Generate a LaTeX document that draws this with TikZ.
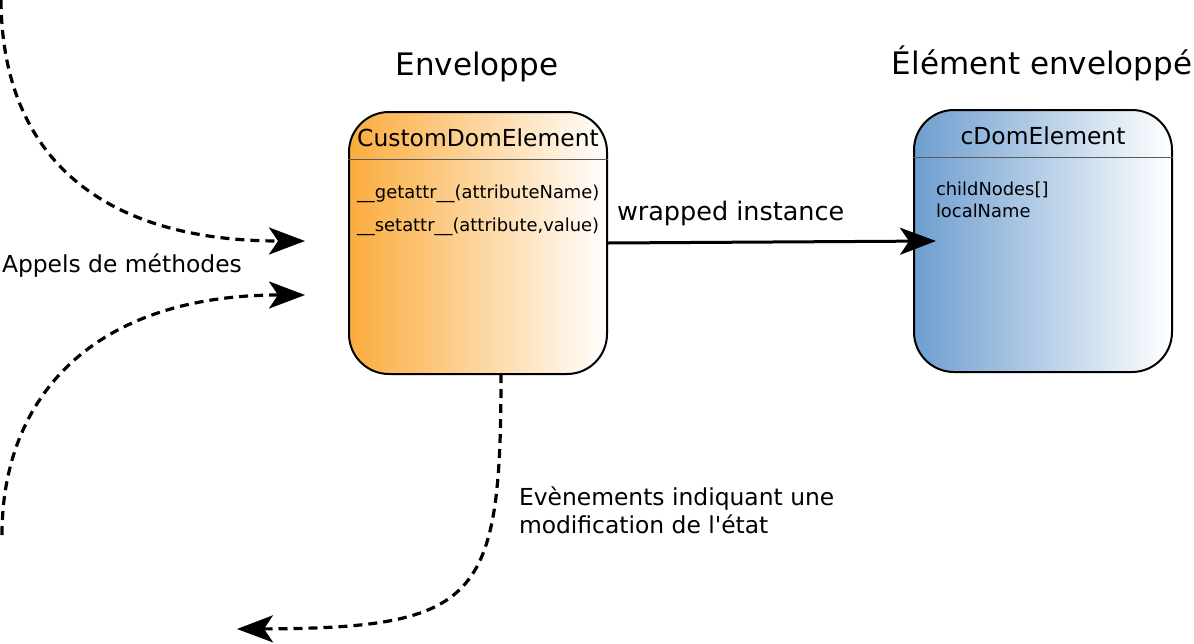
\documentclass[tikz,border=0pt]{standalone}
\usepackage{fontspec}
\setmainfont{DejaVu Sans}
\usetikzlibrary{arrows.meta,calc}
\definecolor{envorange}{RGB}{251,172,62}
\definecolor{elemblue}{RGB}{110,158,207}
\definecolor{sepgray}{RGB}{90,90,90}
\tikzset{
  box/.style={draw=black, line width=2pt, rounded corners=40pt, minimum width=258pt, minimum height=262pt, inner sep=0pt},
  txt/.style={inner sep=0pt, outer sep=0pt},
  title/.style={txt, font=\fontsize{31}{36}\selectfont},
  big/.style={txt, font=\fontsize{23.4}{28}\selectfont},
  small/.style={txt, font=\fontsize{17.9}{21}\selectfont},
  tip/.style={-{Stealth[length=36pt, width=27pt, inset=9pt]}},
  calls/.style={tip, line width=3.2pt, dash pattern=on 9pt off 6pt},
  link/.style={tip, line width=3pt},
  sep/.style={draw=sepgray, line width=1pt}
}
\begin{document}
\begin{tikzpicture}[x=1pt, y=-1pt]
\useasboundingbox (0,0) rectangle (1194,643);
% boxes
\node[box, left color=envorange, right color=white] (env) at (478,243) {};
\node[box, left color=elemblue, right color=white] (elem) at (1043,241) {};
\draw[sep] (env.west |- 0,159) -- (env.east |- 0,159);
\draw[sep] (elem.west |- 0,157) -- (elem.east |- 0,157);
% titles
\node[title, anchor=base] (tenv) at (477,75) {Enveloppe};
\node[title, anchor=base] (telem) at (1042,74) {Élément enveloppé};
% box contents
\node[big, anchor=base] (cname1) at (478,146) {CustomDomElement};
\node[small, anchor=base west] (m1) at (357,198) {\_\_getattr\_\_(attributeName)};
\node[small, anchor=base west] (m2) at (357,231) {\_\_setattr\_\_(attribute,value)};
\node[big, anchor=base] (cname2) at (1043,144) {cDomElement};
\node[small, anchor=base west] (a1) at (936,195) {childNodes[]};
\node[small, anchor=base west] (a2) at (936,217) {localName};
% labels
\node[txt, font=\fontsize{25.5}{30}\selectfont, anchor=base west] (lwrap) at (617,220) {wrapped instance};
\node[big, anchor=base west] (lcalls) at (2,272) {Appels de méthodes};
\node[big, anchor=base west] (lev1) at (519,505) {Evènements indiquant une};
\node[big, anchor=base west] (lev2) at (519,533) {modification de l\textquotesingle état};
% connectors
\draw[link] (env.east) -- ($(elem.west)+(23,0)$);
\coordinate (c1s) at (1,0);
\coordinate (c1e) at (305,241);
\coordinate (c2s) at (2,535);
\coordinate (c2e) at (305,295);
\coordinate (c3s) at (501,374);
\coordinate (c3e) at (237,629);
\draw[calls] (c1s) .. controls (2,160) and (105,241) .. (c1e);
\draw[calls] (c2s) .. controls (2,395) and (95,295) .. (c2e);
\draw[calls] (c3s) .. controls (501,600) and (480,628) .. (c3e);
\end{tikzpicture}
\end{document}
